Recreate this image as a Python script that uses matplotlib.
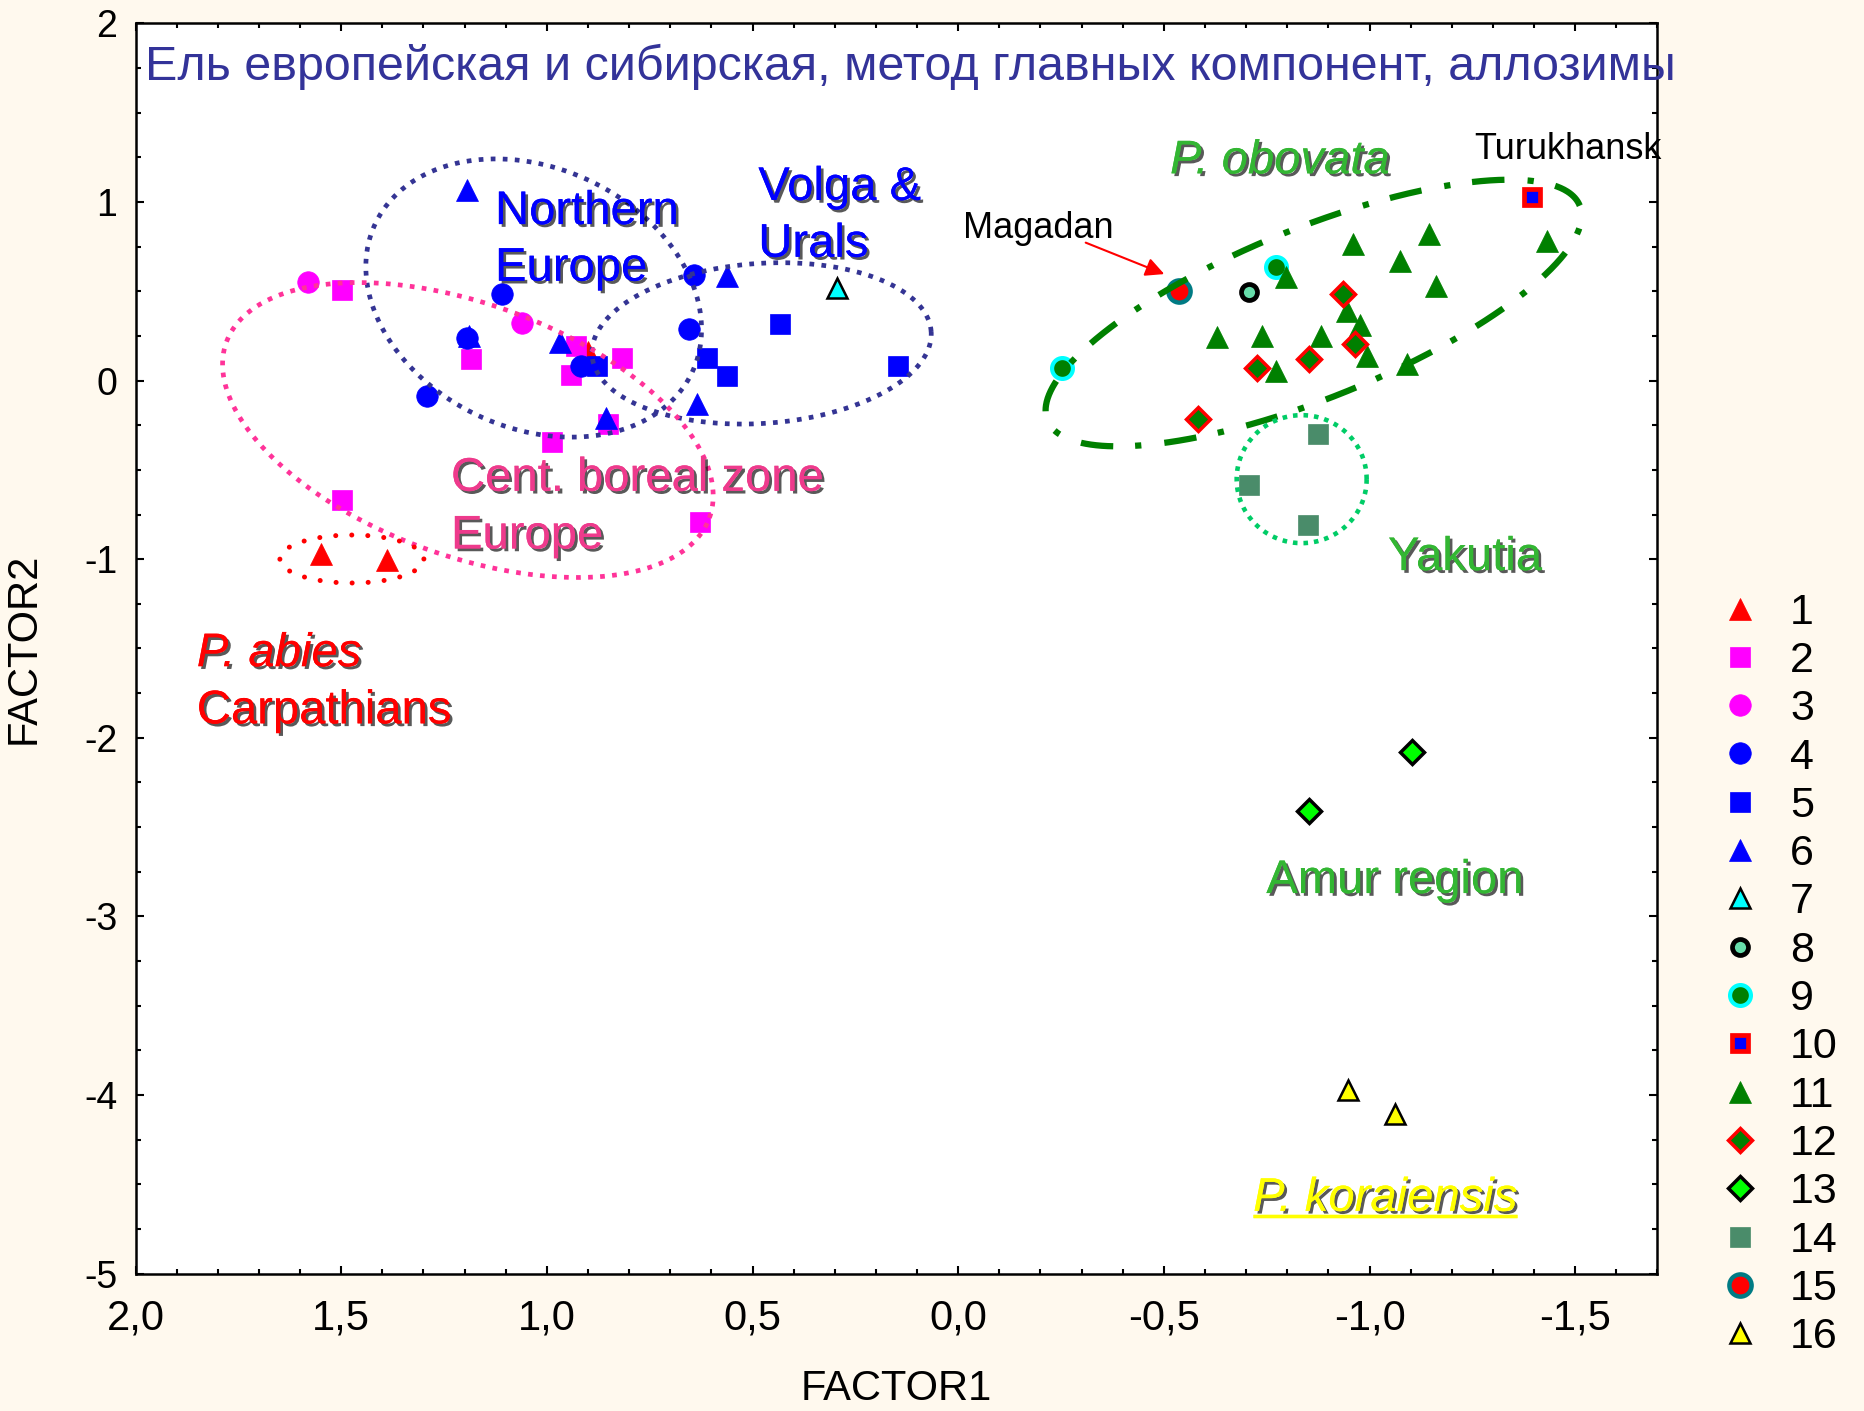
import matplotlib
matplotlib.use('Agg')
import matplotlib.pyplot as plt
import numpy as np
from matplotlib import patheffects as pe
from matplotlib.ticker import MultipleLocator, FuncFormatter

plt.rcParams['font.family'] = ['Liberation Sans', 'DejaVu Sans']

# --- data (FACTOR1, FACTOR2) ---
g1_x = [1.548, 1.388, 0.900]
g1_y = [-0.969, -1.006, 0.160]
g2_x = [1.497, 1.185, 0.928, 0.941, 0.817, 0.851, 0.988, 1.497, 0.628]
g2_y = [0.507, 0.121, 0.196, 0.032, 0.125, -0.242, -0.345, -0.671, -0.790]
g3_x = [1.580, 1.060]
g3_y = [0.550, 0.320]
g4_x = [1.108, 1.195, 1.292, 0.916, 0.642, 0.654]
g4_y = [0.485, 0.239, -0.084, 0.084, 0.593, 0.289]
g5_x = [0.879, 0.611, 0.563, 0.433, 0.147]
g5_y = [0.084, 0.127, 0.028, 0.317, 0.084]
g6_x = [1.195, 1.190, 0.969, 0.856, 0.562, 0.635]
g6_y = [1.066, 0.250, 0.214, -0.209, 0.587, -0.130]
g7_x = [0.294]
g7_y = [0.518]
g8_x = [-0.707]
g8_y = [0.494]
g9_x = [-0.773, -0.253]
g9_y = [0.633, 0.071]
g10_x = [-1.396]
g10_y = [1.028]
g11_x = [-0.798, -0.959, -1.145, -1.073, -1.431, -1.162, -0.630,
         -0.739, -0.883, -0.946, -0.978, -0.994, -0.773, -1.092]
g11_y = [0.578, 0.764, 0.820, 0.671, 0.783, 0.531, 0.242,
         0.252, 0.252, 0.391, 0.313, 0.140, 0.052, 0.093]
g12_x = [-0.936, -0.965, -0.852, -0.727, -0.583]
g12_y = [0.485, 0.205, 0.121, 0.071, -0.214]
g13_x = [-1.103, -0.852]
g13_y = [-2.078, -2.408]
g14_x = [-0.874, -0.707, -0.851]
g14_y = [-0.298, -0.587, -0.810]
g15_x = [-0.537]
g15_y = [0.499]
g16_x = [-0.948, -1.061]
g16_y = [-3.969, -4.108]

series = [
    ('1', g1_x, g1_y, dict(marker='^', ms=16, mfc='#FF0000', mec='#FF0000', mew=0.5)),
    ('2', g2_x, g2_y, dict(marker='s', ms=15, mfc='#FF00FF', mec='#FF00FF', mew=0.5)),
    ('3', g3_x, g3_y, dict(marker='o', ms=15.5, mfc='#FF00FF', mec='#FF00FF', mew=0.5)),
    ('4', g4_x, g4_y, dict(marker='o', ms=15.5, mfc='#0000FF', mec='#0000FF', mew=0.5)),
    ('5', g5_x, g5_y, dict(marker='s', ms=15, mfc='#0000FF', mec='#0000FF', mew=0.5)),
    ('6', g6_x, g6_y, dict(marker='^', ms=16, mfc='#0000FF', mec='#0000FF', mew=0.5)),
    ('7', g7_x, g7_y, dict(marker='^', ms=15, mfc='#00FFFF', mec='black', mew=1.8)),
    ('8', g8_x, g8_y, dict(marker='o', ms=11.5, mfc='#66DDAA', mec='black', mew=3.4)),
    ('9', g9_x, g9_y, dict(marker='o', ms=15, mfc='#008000', mec='#00FFFF', mew=3)),
    ('10', g10_x, g10_y, dict(marker='s', ms=11, mfc='#0000FF', mec='#FF0000', mew=3.4)),
    ('11', g11_x, g11_y, dict(marker='^', ms=16, mfc='#008000', mec='#008000', mew=0.5)),
    ('12', g12_x, g12_y, dict(marker='D', ms=12.5, mfc='#008000', mec='#FF0000', mew=2.5)),
    ('13', g13_x, g13_y, dict(marker='D', ms=12.5, mfc='#00FF00', mec='black', mew=2.5)),
    ('14', g14_x, g14_y, dict(marker='s', ms=15, mfc='#4A8C6A', mec='#4A8C6A', mew=0.5)),
    ('15', g15_x, g15_y, dict(marker='o', ms=16, mfc='#FF0000', mec='#007B84', mew=3.2)),
    ('16', g16_x, g16_y, dict(marker='^', ms=14.5, mfc='#FFFF00', mec='black', mew=1.8)),
]

W, H, DPI = 18.64, 14.11, 100
fig = plt.figure(figsize=(W, H), dpi=DPI, facecolor='#FFF9EE')
ax = fig.add_axes([0.0727, 0.0973, 0.8165, 0.8862])
ax.set_facecolor('white')
ax.set_xlim(2.0, -1.7)
ax.set_ylim(-5, 2)

ax.xaxis.set_major_locator(MultipleLocator(0.5))
ax.xaxis.set_minor_locator(MultipleLocator(0.1))
ax.yaxis.set_major_locator(MultipleLocator(1))
ax.yaxis.set_minor_locator(MultipleLocator(0.25))
ax.xaxis.set_major_formatter(FuncFormatter(lambda v, p: f"{v:.1f}".replace('.', ',')))
ax.yaxis.set_major_formatter(FuncFormatter(lambda v, p: f"{v:.0f}"))
ax.tick_params(which='both', direction='in', top=True, right=True, width=1.5, color='black')
ax.tick_params(which='major', length=5.5)
ax.tick_params(which='minor', length=3.3)
ax.tick_params(axis='x', labelsize=30, pad=18)
ax.tick_params(axis='y', labelsize=27, pad=13)
for s in ax.spines.values():
    s.set_linewidth(1.8)
ax.set_xlabel('FACTOR1', fontsize=30, labelpad=22)
ax.set_ylabel('FACTOR2', fontsize=30, labelpad=29)

handles = []
for lab, xs, ys, st in series:
    h, = ax.plot(xs, ys, ls='none', label=lab, zorder=3, **st)
    handles.append(h)

# group outlines: centre (data), semi-axes in pixels, angle on screen
pos = ax.get_position()
px_x = pos.width * W * DPI / 3.7
px_y = pos.height * H * DPI / 7.0


def ellipse_xy(cx, cy, a, b, ang):
    t = np.linspace(0, 2 * np.pi, 721)
    th = np.deg2rad(ang)
    ex = a * np.cos(t) * np.cos(th) - b * np.sin(t) * np.sin(th)
    ey = a * np.cos(t) * np.sin(th) + b * np.sin(t) * np.cos(th)
    return cx - ex / px_x, cy + ey / px_y


outlines = [
    (1.032, 0.462, 175, 130, -25, '#343494', 3.4, (1.0, 1.55), 'butt'),
    (0.478, 0.208, 170, 80, 4, '#343494', 3.4, (1.0, 1.55), 'butt'),
    (1.192, -0.277, 257, 126, -20, '#FF3399', 3.4, (1.0, 1.55), 'butt'),
    (1.474, -0.999, 72, 24, 0, '#FF0000', 3.6, (0.01, 3.2), 'round'),
    (-0.864, 0.378, 287, 85, 22, '#008000', 4.5, (5.2, 3.5, 1.0, 3.7), 'butt'),
    (-0.835, -0.552, 65, 64, 0, '#00CC66', 3.3, (1.0, 1.3), 'butt'),
]
for cx, cy, a, b, ang, col, lw, dash, cap in outlines:
    ex, ey = ellipse_xy(cx, cy, a, b, ang)
    ax.plot(ex, ey, color=col, lw=lw, dashes=dash, dash_capstyle=cap, zorder=4)

shadow = [pe.withSimplePatchShadow(offset=(2, -2), shadow_rgbFace='black', alpha=0.65), pe.Normal()]

ax.text(1.977, 1.683, 'Ель европейская и сибирская, метод главных компонент, аллозимы',
        fontsize=34.8, color='#333399', va='baseline', ha='left', zorder=6, clip_on=False)

labels = [
    (1.126, 0.876, 'Northern', '#0000FF', 'normal'),
    (1.126, 0.559, 'Europe', '#0000FF', 'normal'),
    (0.486, 1.011, 'Volga &', '#0000FF', 'normal'),
    (0.486, 0.693, 'Urals', '#0000FF', 'normal'),
    (1.233, -0.617, 'Cent. boreal zone', '#EE3A8C', 'normal'),
    (1.233, -0.940, 'Europe', '#EE3A8C', 'normal'),
    (1.851, -1.599, 'P. abies', '#FF0000', 'italic'),
    (1.851, -1.919, 'Carpathians', '#FF0000', 'normal'),
    (-0.515, 1.160, 'P. obovata', '#33B633', 'italic'),
    (-1.045, -1.061, 'Yakutia', '#33B633', 'normal'),
    (-0.749, -2.869, 'Amur region', '#33B633', 'normal'),
]
for x, y, s, col, sty in labels:
    ax.text(x, y, s, fontsize=34, color=col, style=sty, va='baseline', ha='left',
            zorder=6, path_effects=shadow)

kor = ax.text(-0.717, -4.648, 'P. koraiensis', fontsize=34, color='#FFFF00', style='italic',
              va='baseline', ha='left', zorder=6, path_effects=shadow)

ax.text(-0.011, 0.796, 'Magadan', fontsize=26, color='black', va='baseline', ha='left', zorder=6)
ax.text(-1.254, 1.239, 'Turukhansk', fontsize=26, color='black', va='baseline', ha='left',
        zorder=6, clip_on=False)
ax.annotate('', xy=(-0.501, 0.596), xytext=(-0.310, 0.772),
            arrowprops=dict(arrowstyle='-|>', color='#FF0000', lw=1.5, mutation_scale=28,
                            shrinkA=0, shrinkB=0), zorder=6)

# underline under P. koraiensis
fig.canvas.draw()
bb = kor.get_window_extent()
inv = ax.transData.inverted()
ux0 = inv.transform((bb.x0, bb.y0))[0]
ux1 = inv.transform((bb.x1, bb.y0))[0]
ax.plot([ux0, ux1], [-4.678, -4.678], color='#FFFF00', lw=2.4, zorder=6,
        solid_capstyle='butt', path_effects=shadow)

fig.legend(handles, [h.get_label() for h in handles], loc='upper left',
           bbox_to_anchor=(0.9225, 0.5800), frameon=False, fontsize=31, numpoints=1,
           handlelength=0.93, handletextpad=0.71, labelspacing=0.193, borderpad=0,
           borderaxespad=0)

fig.savefig('out.png', dpi=DPI, facecolor=fig.get_facecolor())
plt.close(fig)
